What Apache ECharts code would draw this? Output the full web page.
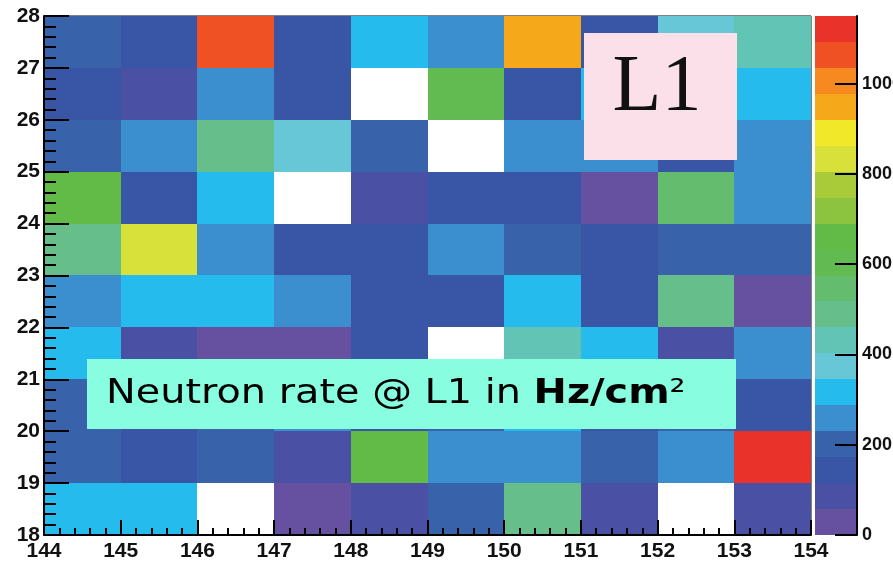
<!DOCTYPE html>
<html>
<head>
<meta charset="utf-8">
<script src="https://cdn.jsdelivr.net/npm/echarts@6/dist/echarts.min.js"></script>
<style>
  html, body { margin: 0; padding: 0; background: #ffffff; }
  #chart { width: 893px; height: 563px; }
</style>
</head>
<body>
<div id="chart"></div>
<script>
// Bin columns (lower x edge of each bin) and rows (lower y edge of each bin)
const columns = [144, 145, 146, 147, 148, 149, 150, 151, 152, 153];
const rows = [27, 26, 25, 24, 23, 22, 21, 20, 19, 18];

// Neutron rate per bin in Hz/cm2, one array per row (0 = empty bin)
const row27 = [200, 145, 1065, 145, 315, 260, 950, 145, 375, 430];
const row26 = [145, 85, 260, 145, 0, 605, 145, 315, 260, 315];
const row25 = [200, 260, 490, 375, 200, 0, 260, 260, 145, 260];
const row24 = [660, 145, 315, 0, 85, 145, 145, 30, 545, 260];
const row23 = [490, 835, 260, 145, 145, 260, 200, 145, 200, 200];
const row22 = [260, 315, 315, 260, 145, 145, 315, 145, 490, 30];
const row21 = [315, 85, 30, 30, 145, 0, 430, 315, 85, 260];
const row20 = [200, 145, 200, 260, 145, 200, 315, 145, 200, 145];
const row19 = [200, 145, 200, 85, 660, 260, 260, 200, 260, 1120];
const row18 = [315, 315, 0, 30, 85, 200, 490, 85, 0, 85];
const rowValues = [row27, row26, row25, row24, row23, row22, row21, row20, row19, row18];

// Colour scale: 20 contour levels from 0 to zMax
const zMax = 1150;
const bandColors = [
  '#6650a0', '#4a50a3', '#3955a5', '#3863ab', '#3c8fcf',
  '#25bbec', '#67c7d6', '#62c4b5', '#66bf8a', '#64bc6e',
  '#62bb50', '#63bb47', '#8cc43f', '#a9cb3a', '#d8e03a',
  '#f1e82a', '#f6a81b', '#f6891f', '#ef5024', '#e9332a'
];
const paletteTicks = [0, 200, 400, 600, 800, 1000];
const xTicks = [144, 145, 146, 147, 148, 149, 150, 151, 152, 153, 154];
const yTicks = [18, 19, 20, 21, 22, 23, 24, 25, 26, 27, 28];

const step = zMax / bandColors.length;
const pieces = bandColors.map((c, i) => ({ gte: i * step, lt: (i + 1) * step, color: c }));
pieces[pieces.length - 1].lte = zMax;
delete pieces[pieces.length - 1].lt;

const cells = [];
rows.forEach((r, ri) => {
  columns.forEach((c, ci) => {
    cells.push([c, r, rowValues[ri][ci]]);
  });
});
const bands = bandColors.map((c, i) => [i]);

const labelFont = { fontFamily: 'Liberation Sans', fontWeight: 'bold', color: '#111', formatter: v => String(v) };

const chart = echarts.init(document.getElementById('chart'), null, { renderer: 'canvas' });
chart.setOption({
  animation: false,
  backgroundColor: '#ffffff',
  grid: [
    { left: 44, top: 16, width: 767, height: 519, show: true, borderColor: '#000', borderWidth: 1, backgroundColor: '#ffffff', outerBoundsMode: 'none', containLabel: false },
    { left: 815, top: 16, width: 42, height: 519, outerBoundsMode: 'none', containLabel: false }
  ],
  xAxis: [
    {
      type: 'value', gridIndex: 0, min: 144, max: 154, interval: 1, z: 10,
      axisLine: { show: true, onZero: false, lineStyle: { color: '#000', width: 2 } },
      axisTick: { show: true, inside: true, length: 15, lineStyle: { color: '#000', width: 2 }, customValues: xTicks },
      minorTick: { show: true, splitNumber: 5, length: 7, lineStyle: { color: '#000', width: 2 } },
      splitLine: { show: false },
      axisLabel: Object.assign({ fontSize: 21, margin: 6, customValues: xTicks }, labelFont)
    },
    {
      type: 'value', gridIndex: 1, min: 0, max: 1, show: false
    }
  ],
  yAxis: [
    {
      type: 'value', gridIndex: 0, min: 18, max: 28, interval: 1, z: 10,
      axisLine: { show: true, onZero: false, lineStyle: { color: '#000', width: 2 } },
      axisTick: { show: true, inside: true, length: 25, lineStyle: { color: '#000', width: 2 }, customValues: yTicks },
      minorTick: { show: true, splitNumber: 5, length: 12, lineStyle: { color: '#000', width: 2 } },
      splitLine: { show: false },
      axisLabel: Object.assign({ fontSize: 21, margin: 4, customValues: yTicks }, labelFont)
    },
    {
      type: 'value', gridIndex: 1, min: 0, max: zMax, position: 'right', z: 10,
      axisLine: { show: true, onZero: false, lineStyle: { color: '#000', width: 2 } },
      axisTick: { show: true, inside: true, length: 22, lineStyle: { color: '#000', width: 2 }, customValues: paletteTicks },
      splitLine: { show: false },
      axisLabel: Object.assign({ fontSize: 18, margin: 5, customValues: paletteTicks }, labelFont)
    }
  ],
  visualMap: {
    type: 'piecewise', show: false, seriesIndex: 0, dimension: 2, pieces: pieces
  },
  series: [
    {
      type: 'custom',
      xAxisIndex: 0, yAxisIndex: 0,
      data: cells,
      renderItem: function (params, api) {
        const v = api.value(2);
        if (!(v > 0)) return null;
        const x = api.value(0), y = api.value(1);
        const p0 = api.coord([x, y + 1]);
        const p1 = api.coord([x + 1, y]);
        return {
          type: 'rect',
          shape: { x: Math.round(p0[0]), y: Math.round(p0[1]), width: Math.round(p1[0]) - Math.round(p0[0]), height: Math.round(p1[1]) - Math.round(p0[1]) },
          style: { fill: api.visual('color') }
        };
      },
      z: 1
    },
    {
      type: 'custom',
      xAxisIndex: 1, yAxisIndex: 1,
      data: bands,
      renderItem: function (params, api) {
        const i = api.value(0);
        const p0 = api.coord([0, (i + 1) * step]);
        const p1 = api.coord([1, i * step]);
        return {
          type: 'rect',
          shape: { x: p0[0], y: Math.round(p0[1]), width: p1[0] - p0[0] - 1, height: Math.round(p1[1]) - Math.round(p0[1]) },
          style: { fill: bandColors[i] }
        };
      },
      z: 1
    }
  ],
  graphic: [
    {
      type: 'rect', z: 100,
      shape: { x: 584, y: 33, width: 153, height: 127 },
      style: { fill: '#fbdfe9' }
    },
    {
      type: 'text', z: 101, x: 657, y: 89,
      style: {
        text: 'L1', fontFamily: 'Liberation Serif', fontSize: 80, fill: '#111',
        align: 'center', verticalAlign: 'middle'
      }
    },
    {
      type: 'rect', z: 100,
      shape: { x: 87, y: 359, width: 649, height: 70 },
      style: { fill: '#88fde0' }
    },
    {
      type: 'text', z: 101, x: 106, y: 394, scaleX: 1.17,
      style: {
        text: '{a|Neutron rate @ L1 in }{b|Hz/cm}{c|²}',
        verticalAlign: 'middle', align: 'left',
        rich: {
          a: { fontFamily: 'DejaVu Sans', fontSize: 34, fill: '#000' },
          b: { fontFamily: 'DejaVu Sans', fontWeight: 'bold', fontSize: 34, fill: '#000' },
          c: { fontFamily: 'DejaVu Sans', fontSize: 34, fill: '#000' }
        }
      }
    }
  ]
});
</script>
</body>
</html>
